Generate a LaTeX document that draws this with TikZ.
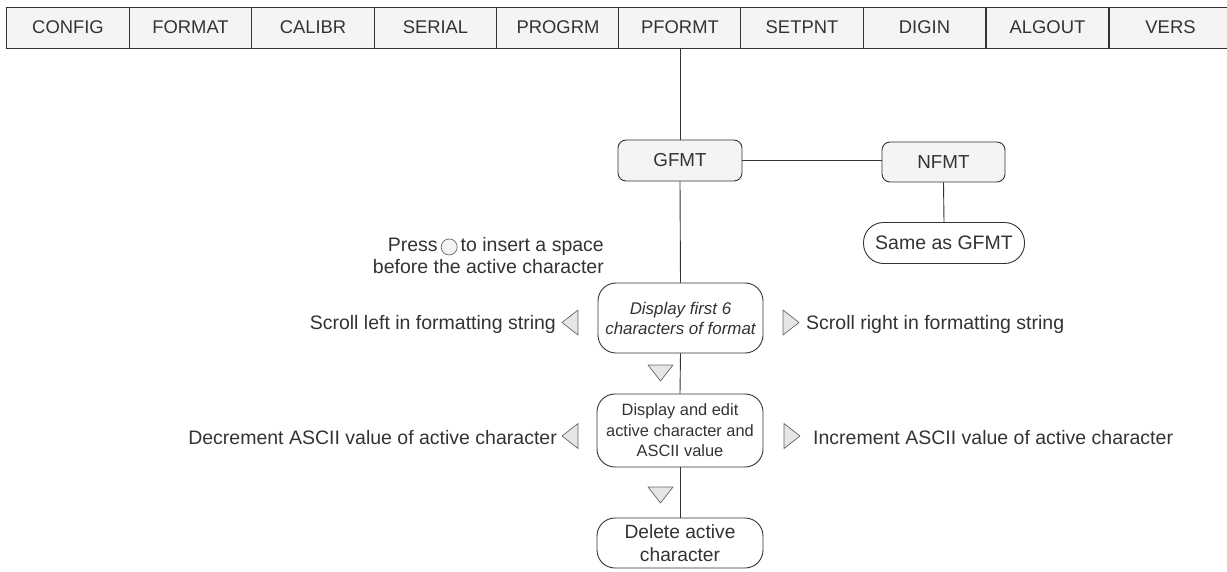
\documentclass[tikz,border=0pt]{standalone}
\usepackage{fontspec}
\setmainfont{Liberation Sans}
\definecolor{ink}{HTML}{333333}
\definecolor{cellfill}{HTML}{F4F4F4}
\definecolor{trifill}{HTML}{E6E6E6}
\begin{document}
\begin{tikzpicture}[x=1pt,y=-1pt,
  cell/.style={draw=ink, fill=cellfill, line width=0.9pt, minimum width=122.4pt, minimum height=41pt, inner sep=0pt, font=\fontsize{18.4}{20}\selectfont, text=ink},
  menu/.style={draw=ink, fill=cellfill, rounded corners=8pt, line width=0.9pt, minimum width=124pt, minimum height=41pt, inner sep=0pt, font=\fontsize{18.8}{20}\selectfont, text=ink},
  pill/.style={draw=ink, fill=white, rounded corners=18pt, line width=0.9pt, align=center, inner sep=0pt, text=ink},
  lbl/.style={text=ink, inner sep=0pt, font=\fontsize{19.5}{22}\selectfont},
  tri/.style={draw=ink!75, fill=trifill, line width=0.7pt, line join=round},
  conn/.style={draw=ink, line width=0.9pt},
  btn/.style={circle, draw=ink!75, fill=cellfill, line width=0.7pt, minimum size=16pt, inner sep=0pt}
]
\useasboundingbox (0,0) rectangle (1227,571);

% top menu bar
\node[cell] (config) at (68,27.5) {CONFIG};
\node[cell] (format) at (190.5,27.5) {FORMAT};
\node[cell] (calibr) at (313,27.5) {CALIBR};
\node[cell] (serial) at (435.5,27.5) {SERIAL};
\node[cell] (progrm) at (558,27.5) {PROGRM};
\node[cell] (pformt) at (680,27.5) {PFORMT};
\node[cell] (setpnt) at (802,27.5) {SETPNT};
\node[cell] (digin) at (924.5,27.5) {DIGIN};
\node[cell] (algout) at (1047.5,27.5) {ALGOUT};
\node[cell] (vers) at (1170.5,27.5) {VERS};

% GFMT / NFMT
\node[menu] (gfmt) at (680,160.5) {GFMT};
\node[menu, minimum width=123pt, minimum height=40pt] (nfmt) at (943.5,162) {NFMT};
\node[pill, minimum width=161pt, minimum height=41pt, rounded corners=20pt, font=\fontsize{19.5}{22}\selectfont] (same) at (944,243) {Same as GFMT};

% flow boxes
\node[pill, minimum width=165pt, minimum height=70pt, font=\fontsize{16.9}{20}\selectfont\itshape] (disp) at (680.5,318) {Display first 6\\characters of format};
\node[pill, minimum width=166pt, minimum height=73pt, font=\fontsize{16.4}{20.5}\selectfont] (edit) at (680,430.5) {Display and edit\\active character and\\ASCII value};
\node[pill, minimum width=166pt, minimum height=50pt, font=\fontsize{19.2}{23}\selectfont] (del) at (680,543) {Delete active\\character};

% connectors
\draw[conn] (pformt.south) -- (gfmt.north);
\draw[conn] (gfmt.east) -- (gfmt.east -| nfmt.west);
\draw[conn] (nfmt.south) -- (same.north);
\draw[conn] (gfmt.south) -- (disp.north);
\draw[conn] (disp.south) -- (edit.north);
\draw[conn] (edit.south) -- (del.north);

% down triangles
\draw[tri] (648,365) -- (673,365) -- (660.5,381) -- cycle;
\draw[tri] (648,487) -- (673,487) -- (660.5,503) -- cycle;

% left / right triangles
\draw[tri] (562,322.5) -- (578,310) -- (578,335) -- cycle;
\draw[tri] (799,322.5) -- (783,310) -- (783,335) -- cycle;
\draw[tri] (562,436) -- (578,423.5) -- (578,448.5) -- cycle;
\draw[tri] (800,436) -- (784,423.5) -- (784,448.5) -- cycle;

% labels
\node[lbl, anchor=base east] (sleft) at (556,329) {Scroll left in formatting string};
\node[lbl, anchor=base west] (sright) at (806,329) {Scroll right in formatting string};
\node[lbl, anchor=base east] (dec) at (557,444) {Decrement ASCII value of active character};
\node[lbl, anchor=base west] (inc) at (813,444) {Increment ASCII value of active character};

% press label
\node[lbl, anchor=base east] (press2) at (604,251) {to insert a space};
\node[btn, anchor=east] (button) at ([xshift=-3pt,yshift=-1pt]press2.west) {};
\node[lbl, anchor=base east] (press1) at ([xshift=-3pt]button.west |- press2.base) {Press};
\node[lbl, anchor=base east] (press3) at (604,273) {before the active character};
\end{tikzpicture}
\end{document}
